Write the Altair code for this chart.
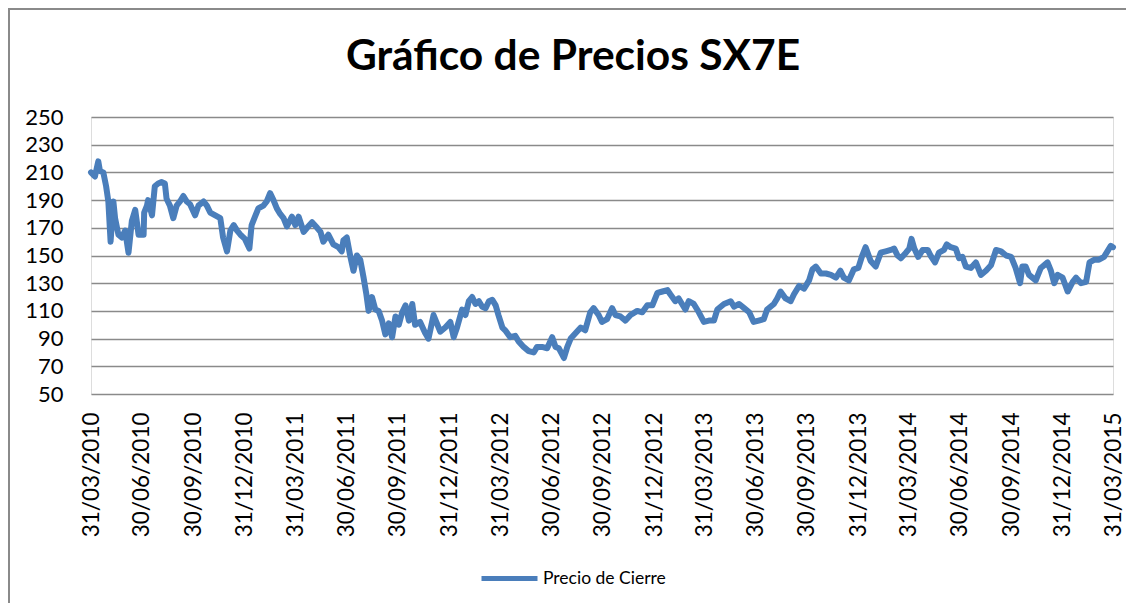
import altair as alt
import pandas as pd

dates = [
    "2010-03-31", "2010-04-07", "2010-04-13", "2010-04-16", "2010-04-22", "2010-04-27", "2010-05-01", "2010-05-05",
    "2010-05-10", "2010-05-13", "2010-05-19", "2010-05-25", "2010-05-31", "2010-06-06", "2010-06-12", "2010-06-18",
    "2010-06-24", "2010-07-03", "2010-07-04", "2010-07-09", "2010-07-11", "2010-07-18", "2010-07-23", "2010-07-29",
    "2010-08-04", "2010-08-10", "2010-08-13", "2010-08-19", "2010-08-25", "2010-08-31", "2010-09-06", "2010-09-12",
    "2010-09-18", "2010-09-24", "2010-10-03", "2010-10-09", "2010-10-18", "2010-10-24", "2010-10-30", "2010-11-08",
    "2010-11-17", "2010-11-22", "2010-11-29", "2010-12-05", "2010-12-11", "2010-12-17", "2010-12-23", "2010-12-31",
    "2011-01-08", "2011-01-12", "2011-01-18", "2011-01-24", "2011-02-02", "2011-02-08", "2011-02-14", "2011-02-20",
    "2011-02-26", "2011-03-04", "2011-03-10", "2011-03-16", "2011-03-25", "2011-03-31", "2011-04-06", "2011-04-15",
    "2011-04-21", "2011-04-30", "2011-05-09", "2011-05-15", "2011-05-20", "2011-05-29", "2011-06-07", "2011-06-16",
    "2011-06-22", "2011-06-25", "2011-07-01", "2011-07-07", "2011-07-13", "2011-07-19", "2011-07-25", "2011-07-31",
    "2011-08-05", "2011-08-09", "2011-08-15", "2011-08-21", "2011-08-27", "2011-09-02", "2011-09-08", "2011-09-14",
    "2011-09-20", "2011-09-26", "2011-10-02", "2011-10-08", "2011-10-14", "2011-10-20", "2011-10-26", "2011-10-31",
    "2011-11-09", "2011-11-18", "2011-11-24", "2011-12-03", "2011-12-09", "2011-12-15", "2011-12-24", "2012-01-02",
    "2012-01-08", "2012-01-14", "2012-01-23", "2012-01-29", "2012-02-04", "2012-02-10", "2012-02-16", "2012-02-22",
    "2012-02-28", "2012-03-05", "2012-03-11", "2012-03-17", "2012-03-23", "2012-03-28", "2012-04-04", "2012-04-09",
    "2012-04-18", "2012-04-27", "2012-05-03", "2012-05-12", "2012-05-21", "2012-05-30", "2012-06-05", "2012-06-14",
    "2012-06-23", "2012-07-02", "2012-07-08", "2012-07-14", "2012-07-23", "2012-07-29", "2012-08-04", "2012-08-13",
    "2012-08-22", "2012-08-30", "2012-09-08", "2012-09-14", "2012-09-23", "2012-09-29", "2012-10-08", "2012-10-17",
    "2012-10-23", "2012-11-01", "2012-11-10", "2012-11-19", "2012-12-01", "2012-12-10", "2012-12-19", "2012-12-28",
    "2013-01-06", "2013-01-15", "2013-01-24", "2013-01-29", "2013-02-07", "2013-02-13", "2013-02-19", "2013-02-25",
    "2013-03-03", "2013-03-12", "2013-03-21", "2013-03-30", "2013-04-08", "2013-04-17", "2013-04-23", "2013-05-05",
    "2013-05-17", "2013-05-23", "2013-06-01", "2013-06-10", "2013-06-19", "2013-06-27", "2013-07-06", "2013-07-15",
    "2013-07-21", "2013-08-02", "2013-08-08", "2013-08-14", "2013-08-23", "2013-09-01", "2013-09-07", "2013-09-16",
    "2013-09-25", "2013-10-04", "2013-10-10", "2013-10-16", "2013-10-25", "2013-11-03", "2013-11-12", "2013-11-21",
    "2013-11-29", "2013-12-05", "2013-12-14", "2013-12-23", "2013-12-31", "2014-01-07", "2014-01-13", "2014-01-22",
    "2014-01-31", "2014-02-09", "2014-02-18", "2014-02-27", "2014-03-05", "2014-03-11", "2014-03-17", "2014-03-26",
    "2014-04-01", "2014-04-05", "2014-04-10", "2014-04-17", "2014-04-25", "2014-05-04", "2014-05-09", "2014-05-17",
    "2014-05-24", "2014-06-02", "2014-06-07", "2014-06-14", "2014-06-23", "2014-06-29", "2014-07-05", "2014-07-11",
    "2014-07-20", "2014-07-29", "2014-08-07", "2014-08-16", "2014-08-25", "2014-09-03", "2014-09-12", "2014-09-21",
    "2014-09-30", "2014-10-08", "2014-10-16", "2014-10-20", "2014-10-26", "2014-11-01", "2014-11-13", "2014-11-22",
    "2014-12-04", "2014-12-10", "2014-12-16", "2014-12-22", "2014-12-31", "2015-01-09", "2015-01-18", "2015-01-24",
    "2015-02-02", "2015-02-11", "2015-02-17", "2015-02-26", "2015-03-06", "2015-03-15", "2015-03-21", "2015-03-27",
    "2015-03-31",
]

precios = [
    210, 207, 218, 211, 210, 200, 189, 160,
    189, 177, 165, 163, 168, 152, 175, 183,
    165, 165, 181, 186, 190, 179, 200, 202,
    203, 202, 191, 186, 177, 186, 189, 193,
    189, 187, 179, 186, 189, 186, 181, 179,
    177, 163, 153, 168, 172, 168, 165, 162,
    155, 172, 178, 184, 186, 189, 195, 190,
    184, 180, 177, 171, 178, 172, 178, 167,
    170, 174, 170, 167, 160, 165, 158, 156,
    153, 161, 163, 150, 139, 150, 147, 134,
    122, 110, 120, 111, 110, 103, 93, 101,
    91, 106, 100, 109, 114, 103, 115, 100,
    102, 94, 90, 107, 101, 95, 98, 102,
    91, 98, 111, 107, 117, 120, 115, 117,
    113, 112, 117, 118, 114, 107, 98, 96,
    91, 92, 88, 84, 81, 80, 84, 84,
    83, 91, 84, 83, 76, 84, 90, 94,
    98, 96, 109, 112, 107, 102, 104, 112,
    107, 106, 103, 107, 110, 109, 114, 114,
    123, 124, 125, 122, 117, 119, 115, 111,
    117, 115, 109, 102, 103, 103, 111, 115,
    117, 113, 115, 112, 109, 102, 103, 104,
    111, 115, 119, 124, 119, 117, 122, 128,
    126, 132, 140, 142, 137, 137, 136, 134,
    139, 134, 132, 140, 141, 150, 156, 146,
    142, 152, 153, 154, 155, 150, 148, 152,
    155, 162, 155, 149, 154, 154, 150, 145,
    152, 154, 158, 156, 155, 148, 149, 142,
    141, 145, 136, 139, 143, 154, 153, 150,
    149, 141, 130, 142, 142, 136, 132, 141,
    145, 139, 130, 136, 134, 124, 131, 134,
    130, 131, 145, 147, 147, 149, 153, 157,
    156,
]

serie = "Precio de Cierre"
titulo = "Gráfico de Precios SX7E"
y_ticks = [50, 70, 90, 110, 130, 150, 170, 190, 210, 230, 250]
x_ticks = [
    (2010, 3, 31), (2010, 6, 30), (2010, 9, 30), (2010, 12, 31),
    (2011, 3, 31), (2011, 6, 30), (2011, 9, 30), (2011, 12, 31),
    (2012, 3, 31), (2012, 6, 30), (2012, 9, 30), (2012, 12, 31),
    (2013, 3, 31), (2013, 6, 30), (2013, 9, 30), (2013, 12, 31),
    (2014, 3, 31), (2014, 6, 30), (2014, 9, 30), (2014, 12, 31),
    (2015, 3, 31),
]

df = pd.DataFrame({"fecha": dates, "precio": precios, "serie": serie})

FONT = "Lato"
BLUE = "#4A7EBB"
GRID = "#8a8a8a"

x_vals = [alt.DateTime(year=y, month=m, date=d, utc=True) for (y, m, d) in x_ticks]

line = alt.Chart(df).mark_line(
    strokeWidth=6, strokeJoin="round", strokeCap="round"
).encode(
    x=alt.X(
        "fecha:T",
        scale=alt.Scale(
            type="utc",
            domain=[alt.DateTime(year=2010, month=3, date=31, utc=True),
                    alt.DateTime(year=2015, month=3, date=31, utc=True)],
            nice=False,
        ),
        axis=alt.Axis(
            values=x_vals,
            labelExpr="utcFormat(datum.value, '%d/%m/%Y')",
            labelAngle=270,
            labelAlign="right",
            labelBaseline="middle",
            labelPadding=18,
            labelFontSize=22.5,
            labelFont=FONT,
            labelColor="#000000",
            labelOverlap=False,
            labelBound=False,
            labelFlush=False,
            ticks=False,
            domain=False,
            grid=False,
            title=None,
        ),
    ),
    y=alt.Y(
        "precio:Q",
        scale=alt.Scale(domain=[50, 250], nice=False, zero=False),
        axis=alt.Axis(
            values=y_ticks,
            labelFontSize=22,
            labelFont=FONT,
            labelColor="#000000",
            labelPadding=28,
            ticks=False,
            domain=False,
            grid=True,
            gridColor=GRID,
            gridWidth=1.3,
            title=None,
        ),
    ),
    color=alt.Color(
        "serie:N",
        scale=alt.Scale(range=[BLUE]),
        legend=alt.Legend(
            orient="none",
            legendX=388,
            legendY=431,
            title=None,
            symbolType="stroke",
            symbolSize=3136,
            symbolStrokeWidth=5,
            labelFontSize=17.5,
            labelFont=FONT,
            labelColor="#000000",
            labelOffset=3,
        ),
    ),
)

marco = pd.DataFrame({"b": [0]})
borde_izq = alt.Chart(marco).mark_rule(color=GRID, strokeWidth=2).encode(
    x=alt.value(-82), y=alt.value(-109), y2=alt.value(486)
)
borde_sup = alt.Chart(marco).mark_rule(color=GRID, strokeWidth=2).encode(
    x=alt.value(-83), x2=alt.value(1035), y=alt.value(-108)
)
titulo_txt = alt.Chart(marco).mark_text(
    text=titulo,
    font=FONT,
    fontSize=42.5,
    fontWeight="bold",
    color="#000000",
    align="center",
    baseline="alphabetic",
).encode(x=alt.value(482), y=alt.value(-47))

chart = alt.layer(line, borde_izq, borde_sup, titulo_txt).properties(
    width=1022,
    height=277,
    autosize=alt.AutoSizeParams(type="none"),
    padding={"left": 83, "top": 109, "right": 13, "bottom": 209},
).configure_view(stroke=None).configure(background="white")

chart.save("out.html", embed_options={"renderer": "svg", "actions": False})
